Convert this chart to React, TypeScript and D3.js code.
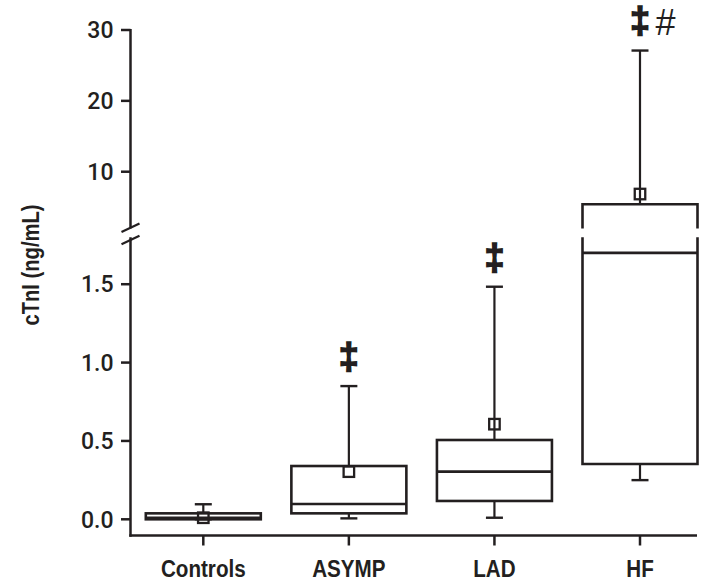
import React from 'react';
import * as d3 from 'd3';

const categories = ['Controls', 'ASYMP', 'LAD', 'HF'];
const q1Values = [0.0, 0.038, 0.117, 0.353];
const medianValues = [0.01, 0.098, 0.304, 1.7];
const q3Values = [0.038, 0.34, 0.506, 5.4];
const whiskerLowValues = [0.0, 0.006, 0.01, 0.25];
const whiskerHighValues = [0.096, 0.85, 1.484, 27.1];
const meanValues = [0.01, 0.304, 0.607, 6.85];
const significanceMarks = ['', '‡', '‡', '‡'];
const extraMarks = ['', '', '', '#'];
const upperTicks = [10, 20, 30];
const lowerTicks = [0, 0.5, 1.0, 1.5];
const yTitle = 'cTnI (ng/mL)';
const upperDomain = [2, 30];
const lowerDomain = [0, 1.8];

const INK = '#231f20';
const W = 705;
const H = 582;

export default function App() {
  const axisX = 130.5;
  const xAxisY = 535.5;
  const x = d3.scalePoint<string>().domain(categories).range([203.3, 640]);
  const yUpper = d3.scaleLinear().domain(upperDomain).range([228.4, 30]);
  const yLower = d3.scaleLinear().domain(lowerDomain).range([519.3, 237.2]);
  const y = (v: number) => (v > lowerDomain[1] ? yUpper(v) : yLower(v));
  const boxW = 115;
  const capW = 17;
  const meanSize = 10.5;

  const upperBottom = yUpper(upperDomain[0]);
  const lowerTop = yLower(lowerDomain[1]);

  const tickFont = "Roboto, 'Liberation Sans', Arial, sans-serif";
  const labelFont = "'Liberation Sans', Arial, sans-serif";
  const squeeze = 0.86;

  return (
    <svg width={W} height={H} style={{ position: 'absolute', left: 0, top: 0, background: '#fff' }}>
      <g stroke={INK} strokeWidth={2.5} fill="none">
        <line x1={axisX} x2={axisX} y1={yUpper(30) - 1} y2={upperBottom} />
        <line x1={axisX} x2={axisX} y1={lowerTop} y2={xAxisY + 1.2} />
        <line x1={axisX - 9} x2={axisX + 9} y1={upperBottom + 3.5} y2={upperBottom - 5} strokeWidth={2.2} />
        <line x1={axisX - 9} x2={axisX + 9} y1={lowerTop + 7} y2={lowerTop - 1.5} strokeWidth={2.2} />
        {upperTicks.map((t) => (
          <line key={'ut' + t} x1={axisX - 9.5} x2={axisX} y1={yUpper(t)} y2={yUpper(t)} />
        ))}
        {lowerTicks.map((t) => (
          <line key={'lt' + t} x1={axisX - 9.5} x2={axisX} y1={yLower(t)} y2={yLower(t)} />
        ))}
        <line x1={axisX - 1.2} x2={697} y1={xAxisY} y2={xAxisY} />
        {categories.map((c) => (
          <line key={'xt' + c} x1={x(c)} x2={x(c)} y1={xAxisY} y2={xAxisY + 10} />
        ))}
      </g>
      <g fill={INK} fontFamily={tickFont} fontSize={23} fontWeight={500} textAnchor="end">
        {upperTicks.map((t) => (
          <text key={'ul' + t} x={axisX - 17} y={yUpper(t)} dy="0.36em">{d3.format('d')(t)}</text>
        ))}
        {lowerTicks.map((t) => (
          <text key={'ll' + t} x={axisX - 17} y={yLower(t)} dy="0.36em">{d3.format('.1f')(t)}</text>
        ))}
      </g>
      <g fill={INK} fontFamily={labelFont} fontSize={24} fontWeight="bold" textAnchor="middle">
        {categories.map((c) => (
          <text key={'xl' + c} transform={`translate(${x(c)},577) scale(${squeeze},1)`}>{c}</text>
        ))}
      </g>
      <text
        transform={`translate(39,265) rotate(-90) scale(${squeeze},1)`}
        fill={INK}
        fontFamily={labelFont}
        fontSize={23.5}
        fontWeight="bold"
        textAnchor="middle"
      >
        {yTitle}
      </text>

      {categories.map((c, i) => {
        const cx = x(c) as number;
        const left = cx - boxW / 2;
        const right = cx + boxW / 2;
        const top = y(q3Values[i]);
        const bottom = y(q1Values[i]);
        const broken = q3Values[i] > lowerDomain[1] && q1Values[i] <= lowerDomain[1];
        const hi = y(whiskerHighValues[i]);
        const lo = y(whiskerLowValues[i]);
        const mY = y(meanValues[i]);
        return (
          <g key={'box' + c} stroke={INK} fill="none">
            <line x1={cx} x2={cx} y1={top} y2={hi} strokeWidth={2.2} />
            <line x1={cx - capW / 2} x2={cx + capW / 2} y1={hi} y2={hi} strokeWidth={2.4} />
            <line x1={cx} x2={cx} y1={bottom} y2={lo} strokeWidth={2.2} />
            <line x1={cx - capW / 2} x2={cx + capW / 2} y1={lo} y2={lo} strokeWidth={2.4} />
            {broken ? (
              <g strokeWidth={2.6}>
                <path d={`M${left},${upperBottom}V${top}H${right}V${upperBottom}`} />
                <path d={`M${left},${lowerTop}V${bottom}H${right}V${lowerTop}`} />
              </g>
            ) : (
              <rect x={left} y={top} width={boxW} height={bottom - top} strokeWidth={2.6} fill="#fff" />
            )}
            <line x1={left} x2={right} y1={y(medianValues[i])} y2={y(medianValues[i])} strokeWidth={2.6} />
            <rect
              x={cx - meanSize / 2}
              y={mY - meanSize / 2}
              width={meanSize}
              height={meanSize}
              strokeWidth={2.3}
              fill="none"
            />
          </g>
        );
      })}

      {categories.map((c, i) => {
        const cx = x(c) as number;
        const cy = y(whiskerHighValues[i]) - 29;
        return (
          <g key={'sig' + c}>
            {significanceMarks[i] && (
              <text
                x={cx}
                y={cy}
                dy="0.33em"
                textAnchor="middle"
                fontFamily="'Liberation Sans', Arial, sans-serif"
                fontWeight="bold"
                fontSize={36}
                fill={INK}
                stroke={INK}
                strokeWidth={1.6}
              >
                {significanceMarks[i]}
              </text>
            )}
            {extraMarks[i] && (
              <text
                x={cx + 25}
                y={cy}
                dy="0.36em"
                textAnchor="middle"
                fontFamily="'Liberation Sans', Arial, sans-serif"
                fontStyle="italic"
                fontSize={36}
                fill={INK}
              >
                {extraMarks[i]}
              </text>
            )}
          </g>
        );
      })}
    </svg>
  );
}
